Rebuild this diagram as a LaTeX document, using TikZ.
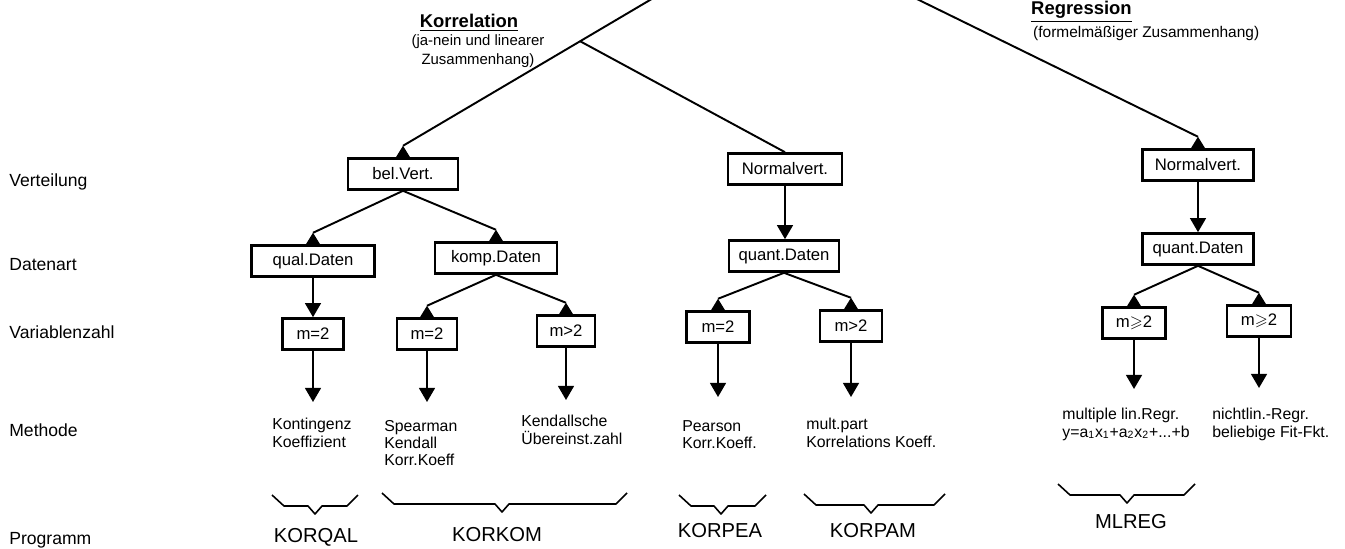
\documentclass[tikz,border=0pt]{standalone}
\usepackage{amssymb}
\usepackage{fontspec}
\setmainfont{Liberation Sans}
\usetikzlibrary{arrows.meta,calc,positioning}

\tikzset{
  box/.style={draw, line width=1.5pt, minimum height=0.62cm, inner xsep=2pt, font=\fontsize{9.5}{10}\selectfont},
  link/.style={line width=1.1pt},
  down/.style={link, -{Triangle[length=8pt,width=9pt]}},
  meth/.style={anchor=north west, align=left, inner sep=0pt, font=\fontsize{9}{9.8}\selectfont},
  prog/.style={font=\fontsize{11.5}{12}\selectfont},
  row/.style={anchor=west, inner sep=0pt, font=\fontsize{10}{11}\selectfont},
  brace/.style={line width=0.9pt, line join=round},
}
\newcommand{\uptip}[1]{\fill ([xshift=-4pt]#1.north) -- ++(8pt,0) -- ++(-4pt,6.5pt) -- cycle;}

\begin{document}
\begin{tikzpicture}[x=0.02cm, y=-0.02cm]
  \path[use as bounding box] (0,0) rectangle (1345,548);
  \clip (0,0) rectangle (1345,548);

  % ---------------- row labels ----------------
  \node[row] (lvert) at (9,182) {Verteilung};
  \node[row] (ldat)  at (9,265) {Datenart};
  \node[row] (lvar)  at (9,332) {Variablenzahl};
  \node[row] (lmeth) at (9,430) {Methode};
  \node[row] (lprog) at (9,540) {Programm};

  % ---------------- headings ----------------
  \node[font=\bfseries\fontsize{10.5}{12}\selectfont] (korr) at (469,23) {\underline{Korrelation}};
  \node[align=center, font=\fontsize{8.5}{11}\selectfont] (korrsub) at (478,51) {(ja-nein und linearer\\Zusammenhang)};
  \node[anchor=west, font=\bfseries\fontsize{10.5}{12}\selectfont] (regr) at (1025,12) {\underline{Regression}};
  \node[anchor=west, font=\fontsize{8.8}{10}\selectfont] (regrsub) at (1027,34) {(formelmäßiger Zusammenhang)};

  % ---------------- boxes ----------------
  \node[box, minimum width=2.2cm]  (belvert) at (403,174) {bel.Vert.};
  \node[box, minimum width=2.28cm] (normK)   at (785,169) {Normalvert.};
  \node[box, minimum width=2.22cm] (normR)   at (1198,165) {Normalvert.};
  \node[box, minimum width=2.46cm] (qual)    at (313,261) {qual.Daten};
  \node[box, minimum width=2.44cm] (komp)    at (496,258) {komp.Daten};
  \node[box, minimum width=2.2cm]  (quantK)  at (784,256) {quant.Daten};
  \node[box, minimum width=2.22cm] (quantR)  at (1198,249) {quant.Daten};
  \node[box, minimum width=1.22cm] (mqual)   at (313,334) {m=2};
  \node[box, minimum width=1.2cm]  (mkomp)   at (427,334) {m=2};
  \node[box, minimum width=1.16cm] (mkompg)  at (566,331) {m>2};
  \node[box, minimum width=1.26cm] (mpea)    at (718,327) {m=2};
  \node[box, minimum width=1.24cm] (mpam)    at (851,326) {m>2};
  \node[box, minimum width=1.26cm] (mregl)   at (1134,323) {m$\geqslant$2};
  \node[box, minimum width=1.28cm] (mregr)   at (1259,321) {m$\geqslant$2};

  % ---------------- connectors ----------------
  \coordinate (top) at (772,-72);
  \draw[link] (top) -- ([yshift=6.5pt]belvert.north);
  \uptip{belvert}
  \coordinate (split) at ($(top)!0.52!([yshift=6.5pt]belvert.north)$);
  \draw[link] (split) -- (normK.north);
  \draw[link] (top) -- ([yshift=6.5pt]normR.north);
  \uptip{normR}

  \foreach \a/\b in {belvert/qual, belvert/komp, komp/mkomp, komp/mkompg,
                     quantK/mpea, quantK/mpam, quantR/mregl, quantR/mregr} {
    \draw[link] (\a.south) -- ([yshift=6.5pt]\b.north);
    \uptip{\b}
  }
  \draw[down] (qual.south) -- (qual.south |- mqual.north);
  \draw[down] (normK.south) -- (normK.south |- quantK.north);
  \draw[down] (normR.south) -- (normR.south |- quantR.north);

  \foreach \b/\y in {mqual/402, mkomp/402, mkompg/400, mpea/397, mpam/397, mregl/389, mregr/388}
    \draw[down] (\b.south) -- (\b.south |- 0,\y);

  % ---------------- methods ----------------
  \node[meth] (kont)  at (272,418) {Kontingenz\\Koeffizient};
  \node[meth] (spear) at (384,420) {Spearman\\Kendall\\Korr.Koeff};
  \node[meth] (kend)  at (521,415) {Kendallsche\\Übereinst.zahl};
  \node[meth] (pear)  at (682,420) {Pearson\\Korr.Koeff.};
  \node[meth] (mult)  at (806,418) {mult.part\\Korrelations Koeff.};
  \node[meth] (mlin)  at (1062,408) {multiple lin.Regr.\\y=a\textsubscript{1}x\textsubscript{1}+a\textsubscript{2}x\textsubscript{2}+...+b};
  \node[meth] (nlin)  at (1212,408) {nichtlin.-Regr.\\beliebige Fit-Fkt.};

  % ---------------- programs ----------------
  \foreach \l/\t/\r/\y in {272/315/358/495, 382/502/627/493, 679/721/766/495, 804/871/945/494, 1058/1127/1195/484}
    \draw[brace] (\l,\y) -- (\l+12,\y+11) -- (\t-7,\y+11) -- (\t,\y+19) -- (\t+7,\y+11) -- (\r-11,\y+11) -- (\r,\y);
  \node[prog] (pqal) at (316,537) {KORQAL};
  \node[prog] (pkom) at (497,535) {KORKOM};
  \node[prog] (ppea) at (720,531) {KORPEA};
  \node[prog] (ppam) at (873,531) {KORPAM};
  \node[prog] (preg) at (1131,522) {MLREG};
\end{tikzpicture}
\end{document}
